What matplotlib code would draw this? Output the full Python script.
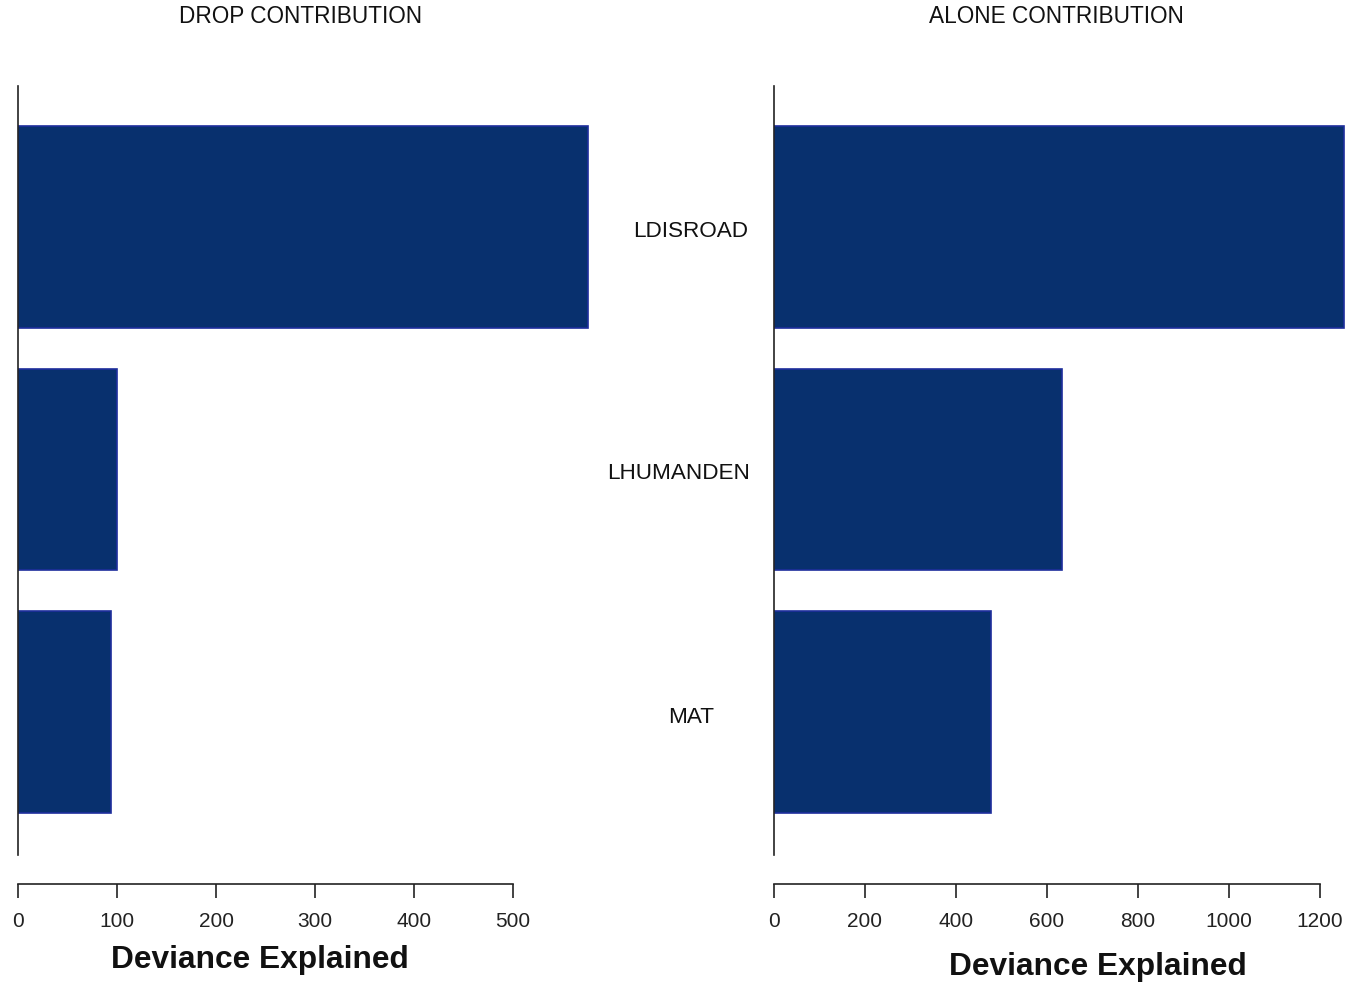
import matplotlib
matplotlib.use("Agg")
import matplotlib.pyplot as plt
from matplotlib.transforms import blended_transform_factory

plt.rcParams['font.family'] = ['Liberation Sans', 'DejaVu Sans']

categories = ["LDISROAD", "LHUMANDEN", "MAT"]
drop_values = [576, 100, 94]
alone_values = [1253, 633, 477]
drop_ticks = [0, 100, 200, 300, 400, 500]
alone_ticks = [0, 200, 400, 600, 800, 1000, 1200]
titles = ["DROP CONTRIBUTION", "ALONE CONTRIBUTION"]
xlabel = "Deviance Explained"

W, H = 1348, 986
fig = plt.figure(figsize=(W / 100, H / 100), dpi=100)

def px_ax(l, r, t, b):
    return fig.add_axes([l / W, (H - b) / H, (r - l) / W, (b - t) / H])

ax1 = px_ax(18, 600, 86, 855)
ax2 = px_ax(774, 1346, 86, 855)

face = '#08306e'
edge = '#1e2e9c'
ypos = [0.7, 1.9, 3.1]

setups = [
    (ax1, drop_values, drop_ticks, (0, 582 / 0.99), titles[0], 0.486, 0.415, -0.137),
    (ax2, alone_values, alone_ticks, (0, 572 / 0.455), titles[1], 0.493, 0.566, -0.145),
]
for ax, vals, ticks, xlim, title, tx, lx, ly in setups:
    ax.barh(ypos, vals, height=1.0, color=face, edgecolor=edge, linewidth=1.2)
    ax.set_xlim(*xlim)
    ax.set_ylim(3.81, 0.0)
    for s in ['top', 'right']:
        ax.spines[s].set_visible(False)
    ax.spines['left'].set_linewidth(1.2)
    ax.spines['left'].set_color('#222222')
    ax.spines['bottom'].set_position(('outward', 20.9))
    ax.spines['bottom'].set_bounds(ticks[0], ticks[-1])
    ax.spines['bottom'].set_linewidth(1.2)
    ax.spines['bottom'].set_color('#222222')
    ax.set_xticks(ticks)
    ax.set_xticklabels([str(t) for t in ticks], fontsize=15, color='#222222')
    ax.tick_params(axis='x', length=10, width=1.2, pad=10, color='#222222')
    ax.set_yticks([])
    ax.text(tx, 1.091, title, transform=ax.transAxes, ha='center', va='center',
            fontsize=16.3, color='#111111')
    ax.text(lx, ly, xlabel, transform=ax.transAxes, ha='center', va='center',
            fontsize=22.8, fontweight='bold', color='#111111')

trans = blended_transform_factory(ax2.transAxes, ax2.transData)
label_x = [-0.145, -0.166, -0.145]
label_dy = [0.02, 0.02, 0.03]
for cat, y, lxp, dy in zip(categories, ypos, label_x, label_dy):
    ax2.text(lxp, y + dy, cat, transform=trans, ha='center', va='center',
             fontsize=16.2, color='#111111')

fig.savefig("out.png", dpi=100, facecolor='white')
